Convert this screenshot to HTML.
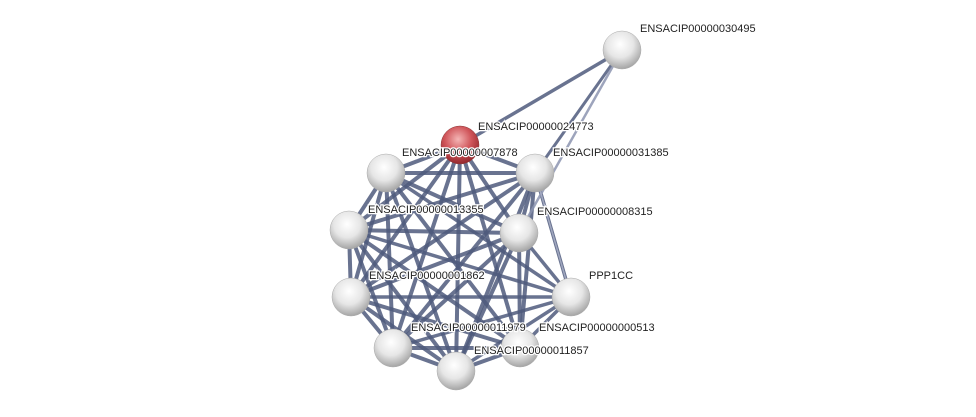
<!DOCTYPE html>
<html><head><meta charset="utf-8"><style>
html,body{margin:0;padding:0;background:#fff;}
svg{display:block;}
text{font-family:"Liberation Sans",sans-serif;font-size:11px;fill:#222;}
</style></head><body>
<svg width="976" height="417" viewBox="0 0 976 417">
<defs>
<radialGradient id="g" cx="0.45" cy="0.35" r="0.7">
<stop offset="0" stop-color="#ffffff"/><stop offset="0.5" stop-color="#e6e6e6"/><stop offset="1" stop-color="#9a9a9a"/></radialGradient>
<radialGradient id="r" cx="0.45" cy="0.35" r="0.7">
<stop offset="0" stop-color="#f4b5b5"/><stop offset="0.5" stop-color="#d0555a"/><stop offset="1" stop-color="#8a2025"/></radialGradient>
</defs>
<g id="edges" stroke="#4f5a7c" stroke-width="4" stroke-opacity="0.85" stroke-linecap="round"></g>
<g id="nodes"></g>
</svg>
<script>
var N={a:[622,50],b:[460,145],c:[386,173],d:[535,173],e:[349,230],f:[519,233],g:[351,297],p:[571,297],h:[393,348],i:[520,348],j:[456,371]};
var E=document.getElementById('edges'),ns='http://www.w3.org/2000/svg';
function L(x,y,w,c,o){var l=document.createElementNS(ns,'line');var A=N[x],B=N[y];l.setAttribute('x1',A[0]);l.setAttribute('y1',A[1]);l.setAttribute('x2',B[0]);l.setAttribute('y2',B[1]);if(w)l.setAttribute('stroke-width',w);if(c)l.setAttribute('stroke',c);if(o)l.setAttribute('stroke-opacity',o);E.appendChild(l);}
var C='bcdefghij'.split('');
for(var i=0;i<C.length;i++)for(var k=i+1;k<C.length;k++)L(C[i],C[k]);
['c','d','f','g','h','i','j','e'].forEach(function(x){L('p',x,3.5);});
L('a','b',3.5);L('a','d',3);L('a','f',2.5,'#8c94b0');L('d','p',1.5,'#aab0c8');
var G=document.getElementById('nodes');
for(var key in N){var c=document.createElementNS(ns,'circle');c.setAttribute('cx',N[key][0]);c.setAttribute('cy',N[key][1]);c.setAttribute('r',19);c.setAttribute('fill',key=='b'?'url(#r)':'url(#g)');c.setAttribute('stroke',key=='b'?'#8a3a3a':'#aaa');c.setAttribute('stroke-width','0.5');G.appendChild(c);}
var T=[[640,32,'ENSACIP00000030495'],[478,130,'ENSACIP00000024773'],[402,156,'ENSACIP00000007878'],[553,156,'ENSACIP00000031385'],[368,213,'ENSACIP00000013355'],[537,215,'ENSACIP00000008315'],[369,279,'ENSACIP00000001862'],[589,279,'PPP1CC'],[411,331,'ENSACIP00000011979'],[539,331,'ENSACIP00000000513'],[474,354,'ENSACIP00000011857']];
T.forEach(function(t){var x=document.createElementNS(ns,'text');x.setAttribute('x',t[0]);x.setAttribute('y',t[1]);x.setAttribute('stroke','#fff');x.setAttribute('stroke-width','2.5');x.setAttribute('paint-order','stroke');x.textContent=t[2];G.appendChild(x);});
</script>
</body></html>
